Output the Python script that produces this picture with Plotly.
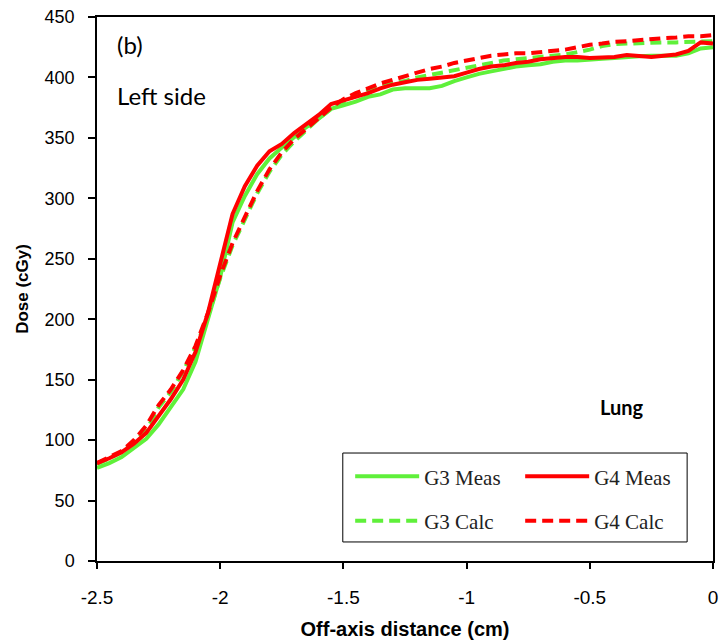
import plotly.graph_objects as go

x_cm = [-2.50, -2.45, -2.40, -2.35, -2.30, -2.25, -2.20, -2.15, -2.10, -2.05,
        -2.00, -1.95, -1.90, -1.85, -1.80, -1.75, -1.70, -1.65, -1.60, -1.55,
        -1.50, -1.45, -1.40, -1.35, -1.30, -1.25, -1.20, -1.15, -1.10, -1.05,
        -1.00, -0.95, -0.90, -0.85, -0.80, -0.75, -0.70, -0.65, -0.60, -0.55,
        -0.50, -0.45, -0.40, -0.35, -0.30, -0.25, -0.20, -0.15, -0.10, -0.05, 0.00]

g3_meas = [77, 81, 86, 93, 101, 113, 127, 142, 165, 200,
           235, 280, 302, 320, 333, 342, 351, 359, 366, 374,
           377, 380, 384, 386, 390, 391, 391, 391, 393, 397,
           400, 403, 405, 407, 409, 410, 411, 413, 414, 414,
           415, 415.5, 416, 417, 417.5, 418, 418, 418, 420, 424, 425]

g4_meas = [81, 85, 90, 97, 106, 120, 134, 150, 173, 205,
           245, 287, 310, 327, 339, 345, 354, 361, 369, 378,
           381, 384, 387, 391, 394, 396, 398, 399, 400, 401,
           404, 407, 409, 410, 412, 413, 415, 416, 417, 417,
           416, 416.5, 417, 418.5, 418, 417, 418, 419, 422, 429, 428]

g3_calc = [80, 85, 90, 98, 108, 127, 140, 157, 177, 202,
           234, 261, 283, 304, 322, 336, 347, 357, 366, 374,
           380, 385, 389, 392, 395, 397, 400, 402, 404, 406,
           408, 410, 412, 414, 415, 416, 417, 418, 419, 421,
           423, 426, 427.5, 428, 428.5, 429, 429, 429, 429.5, 430, 430]

g4_calc = [81, 86, 91, 100, 112, 129, 142, 158, 178, 205,
           236, 263, 285, 306, 324, 338, 349, 358, 367, 375,
           382, 387, 391, 395, 398, 401, 404, 407, 409, 412,
           414, 416, 418, 419, 420, 420, 421, 422, 423, 425,
           427, 428, 429.5, 430, 431, 432, 432.5, 433, 434, 434, 435]

x_ticks = [-2.5, -2, -1.5, -1, -0.5, 0]
x_tick_text = ["-2.5", "-2", "-1.5", "-1", "-0.5", "0"]
y_ticks = [0, 50, 100, 150, 200, 250, 300, 350, 400, 450]

GREEN = "#5FF03A"
RED = "#FF0000"
DASH = "11px,6px"

fig = go.Figure()
fig.add_trace(go.Scatter(x=x_cm, y=g3_meas, mode="lines", name="G3 Meas",
                         line=dict(color=GREEN, width=4), legend="legend"))
fig.add_trace(go.Scatter(x=x_cm, y=g3_calc, mode="lines", name="G3 Calc",
                         line=dict(color=GREEN, width=4, dash=DASH), legend="legend2"))
fig.add_trace(go.Scatter(x=x_cm, y=g4_meas, mode="lines", name="G4 Meas",
                         line=dict(color=RED, width=4), legend="legend"))
fig.add_trace(go.Scatter(x=x_cm, y=g4_calc, mode="lines", name="G4 Calc",
                         line=dict(color=RED, width=4, dash=DASH), legend="legend2"))

legend_common = dict(orientation="h", xanchor="left", yanchor="middle",
                     bgcolor="rgba(0,0,0,0)", borderwidth=0,
                     font=dict(family="Liberation Serif", size=21, color="#222"),
                     entrywidth=91, entrywidthmode="pixels",
                     itemwidth=64, traceorder="normal")

fig.update_layout(
    width=720, height=641,
    margin=dict(l=97, r=7, t=17, b=80, autoexpand=False),
    paper_bgcolor="white", plot_bgcolor="white",
    showlegend=True,
    legend=dict(x=0.411, y=0.155, **legend_common),
    legend2=dict(x=0.411, y=0.0735, **legend_common),
    xaxis=dict(range=[-2.5, 0], tickvals=x_ticks, ticktext=x_tick_text,
               showgrid=False, zeroline=False, showline=True, mirror=True,
               linecolor="black", linewidth=1.5, ticks="outside", ticklen=6,
               tickcolor="black", tickwidth=1.5, ticklabelstandoff=12,
               tickfont=dict(family="Liberation Sans", size=19, color="black"),
               title=dict(text="<b>Off-axis distance (cm)</b>", standoff=15,
                          font=dict(family="Liberation Sans", size=20, color="black"))),
    yaxis=dict(range=[0, 450], tickvals=y_ticks,
               showgrid=False, zeroline=False, showline=True, mirror=True,
               linecolor="black", linewidth=1.5, ticks="outside", ticklen=7,
               tickcolor="black", tickwidth=1.5, ticklabelstandoff=10,
               tickfont=dict(family="Liberation Sans", size=18, color="black"),
               title=dict(text="<b>Dose (cGy)</b>", standoff=12,
                          font=dict(family="Liberation Sans", size=17, color="black"))),
    shapes=[dict(type="rect", xref="paper", yref="paper",
                 x0=0.399, x1=0.958, y0=0.035, y1=0.1985,
                 line=dict(color="black", width=1), fillcolor="rgba(0,0,0,0)")],
    annotations=[
        dict(text="(b)", xref="paper", yref="paper", x=0.029, y=0.949,
             xanchor="left", yanchor="middle", showarrow=False,
             font=dict(family="Lato", size=24, color="black")),
        dict(text="Left side", xref="paper", yref="paper", x=0.029, y=0.855,
             xanchor="left", yanchor="middle", showarrow=False,
             font=dict(family="Lato", size=24, color="black")),
        dict(text="<b>Lung</b>", xref="paper", yref="paper", x=0.852, y=0.283,
             xanchor="center", yanchor="middle", showarrow=False,
             font=dict(family="Lato", size=20, color="black")),
    ],
)

fig.write_html("out.html")
